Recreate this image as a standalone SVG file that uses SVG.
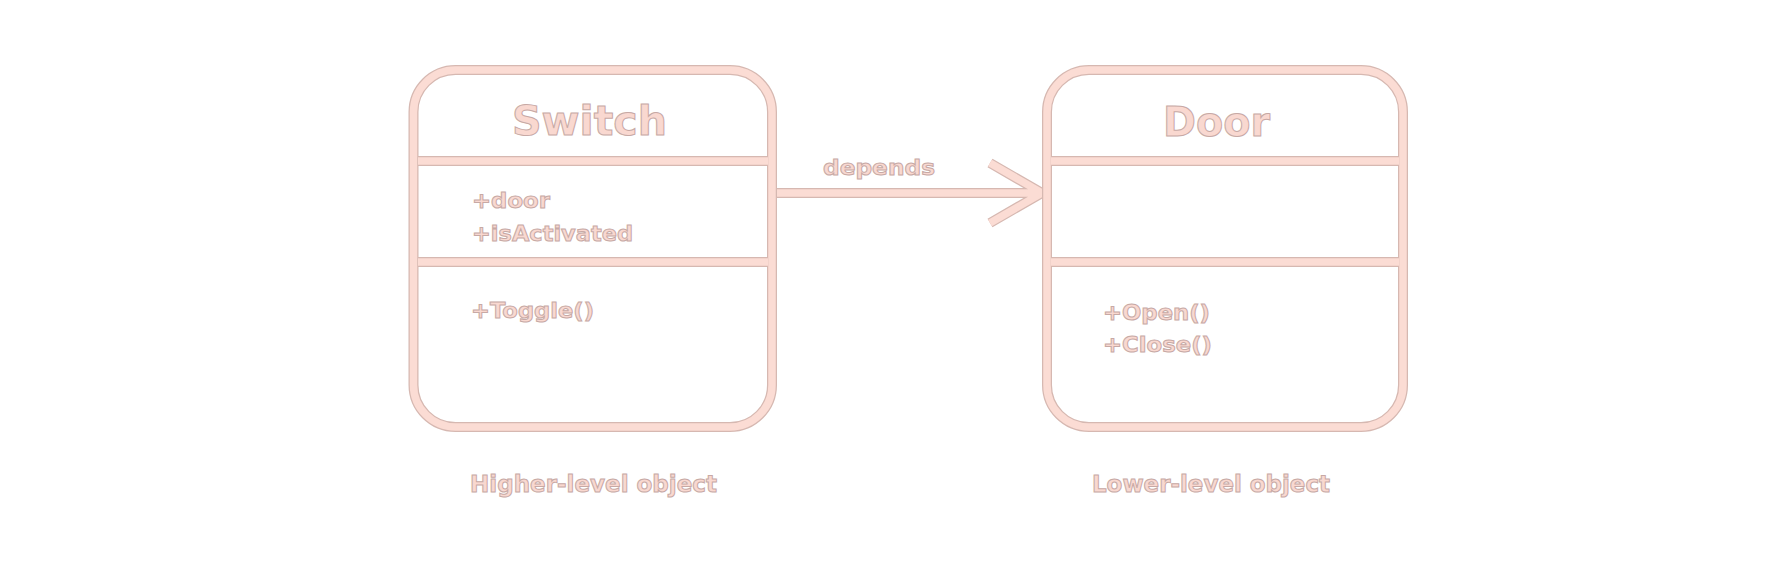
<svg xmlns="http://www.w3.org/2000/svg" width="1768" height="564" viewBox="0 0 1768 564">
<style>
.out{fill:none;stroke:#d6b8b1;stroke-width:10}
.in{fill:none;stroke:#fbdcd4;stroke-width:7.5}
.t{font-family:"DejaVu Sans","Liberation Sans",Arial,sans-serif;font-weight:bold;fill:#f9d8d0;stroke:#c7a9a5;stroke-width:1}
.title{font-size:40px}
.mem{font-size:22px}
.lbl{font-size:23px}
</style>
<rect width="1768" height="564" fill="#ffffff"/>
<g id="connectors">
  <path class="out" d="M772,193 H1040 M990,163 L1042,193 L990,223"/>
  <path class="in" d="M772,193 H1040 M990,163 L1042,193 L990,223"/>
  <text class="t mem" x="823" y="175" textLength="112" lengthAdjust="spacingAndGlyphs">depends</text>
</g>
<g id="switch">
  <g class="out">
    <rect x="413.5" y="70" width="358.5" height="357" rx="42"/>
    <path d="M418,161 H768 M418,262 H768"/>
  </g>
  <g class="in">
    <rect x="413.5" y="70" width="358.5" height="357" rx="42"/>
    <path d="M418,161 H768 M418,262 H768"/>
  </g>
  <text class="t title" x="512" y="135" textLength="155" lengthAdjust="spacingAndGlyphs">Switch</text>
  <text class="t mem" x="472" y="208" textLength="78" lengthAdjust="spacingAndGlyphs">+door</text>
  <text class="t mem" x="472" y="241" textLength="161" lengthAdjust="spacingAndGlyphs">+isActivated</text>
  <text class="t mem" x="471" y="318" textLength="123" lengthAdjust="spacingAndGlyphs">+Toggle()</text>
</g>
<g id="door">
  <g class="out">
    <rect x="1047" y="70" width="356" height="357" rx="42"/>
    <path d="M1051,161 H1399 M1051,262 H1399"/>
  </g>
  <g class="in">
    <rect x="1047" y="70" width="356" height="357" rx="42"/>
    <path d="M1051,161 H1399 M1051,262 H1399"/>
  </g>
  <text class="t title" x="1163" y="136" textLength="107" lengthAdjust="spacingAndGlyphs">Door</text>
  <text class="t mem" x="1103" y="320" textLength="107" lengthAdjust="spacingAndGlyphs">+Open()</text>
  <text class="t mem" x="1103" y="352" textLength="109" lengthAdjust="spacingAndGlyphs">+Close()</text>
</g>
<g id="label-higher">
  <text class="t lbl" x="470" y="492" textLength="247" lengthAdjust="spacingAndGlyphs">Higher-level object</text>
</g>
<g id="label-lower">
  <text class="t lbl" x="1092" y="492" textLength="238" lengthAdjust="spacingAndGlyphs">Lower-level object</text>
</g>
</svg>
